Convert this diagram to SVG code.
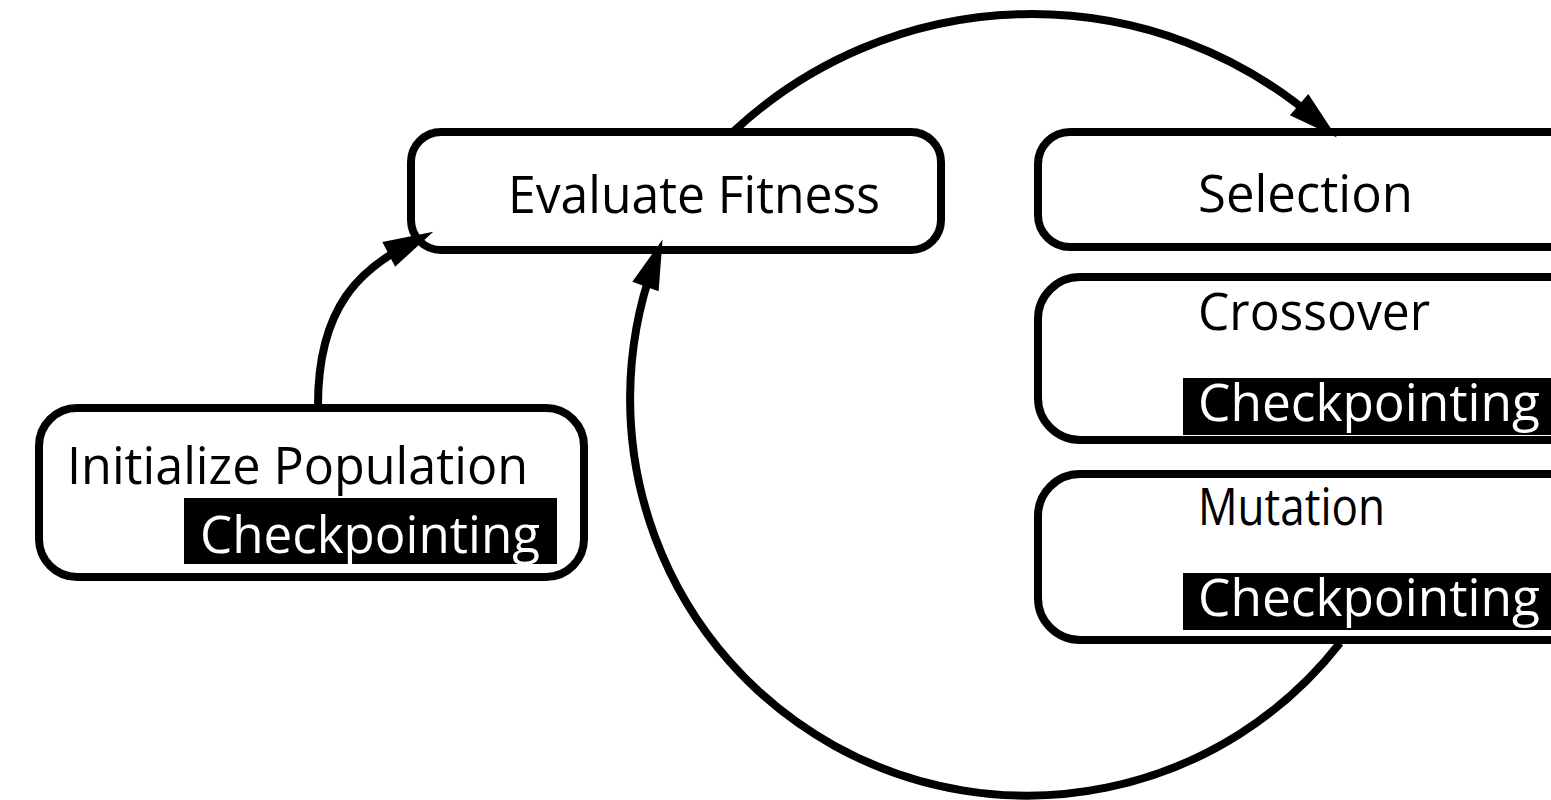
<svg xmlns="http://www.w3.org/2000/svg" width="1551" height="800" viewBox="0 0 1551 800">
  <style>
    .box { fill: none; stroke: #000; stroke-width: 8; }
    .lbl { font-family: "Open Sans", "Noto Sans", sans-serif; font-size: 51px; fill: #000; }
    .inv { font-family: "Open Sans", "Noto Sans", sans-serif; font-size: 51px; fill: #fff; }
    .blk { fill: #000; }
    .conn { fill: none; stroke: #000; stroke-width: 8; }
  </style>
  <defs>
    <marker id="arrow" markerUnits="userSpaceOnUse" viewBox="-54 -16 56 32" refX="-25" refY="0" markerWidth="56" markerHeight="32" orient="auto">
      <path d="M0,0 L-50,-14 L-50,14 Z" fill="#000"/>
    </marker>
  </defs>
  <rect width="1551" height="800" fill="#fff"/>

  <g id="init-population">
    <rect class="box" x="39" y="408" width="545" height="169" rx="38"/>
    <text class="lbl" x="67" y="484" textLength="461" lengthAdjust="spacingAndGlyphs">Initialize Population</text>
    <rect class="blk" x="184" y="498" width="373" height="66"/>
    <text class="inv" x="200" y="553" textLength="340" lengthAdjust="spacingAndGlyphs">Checkpointing</text>
  </g>

  <g id="evaluate-fitness">
    <rect class="box" x="411" y="132" width="530" height="118" rx="30"/>
    <text class="lbl" x="508" y="213" textLength="372" lengthAdjust="spacingAndGlyphs">Evaluate Fitness</text>
  </g>

  <g id="selection">
    <rect class="box" x="1038" y="132" width="560" height="115" rx="32"/>
    <text class="lbl" x="1198" y="212" textLength="215" lengthAdjust="spacingAndGlyphs">Selection</text>
  </g>

  <g id="crossover">
    <rect class="box" x="1038" y="277" width="560" height="163" rx="42"/>
    <text class="lbl" x="1198" y="330" textLength="232" lengthAdjust="spacingAndGlyphs">Crossover</text>
    <rect class="blk" x="1183" y="378" width="400" height="57"/>
    <text class="inv" x="1198" y="421" textLength="342" lengthAdjust="spacingAndGlyphs">Checkpointing</text>
  </g>

  <g id="mutation">
    <rect class="box" x="1038" y="474" width="560" height="166" rx="42"/>
    <text class="lbl" x="1198" y="525" textLength="187" lengthAdjust="spacingAndGlyphs">Mutation</text>
    <rect class="blk" x="1183" y="573" width="400" height="57"/>
    <text class="inv" x="1198" y="616" textLength="342" lengthAdjust="spacingAndGlyphs">Checkpointing</text>
  </g>

  <g id="connectors">
    <path class="conn" d="M318,405 C318,305 362,268 411,243" marker-end="url(#arrow)"/>
    <path class="conn" d="M733,132 A437,437 0 0 1 1318,121" marker-end="url(#arrow)"/>
    <path class="conn" d="M1340,643 A397,397 0 0 1 654,263" marker-end="url(#arrow)"/>
  </g>
</svg>
